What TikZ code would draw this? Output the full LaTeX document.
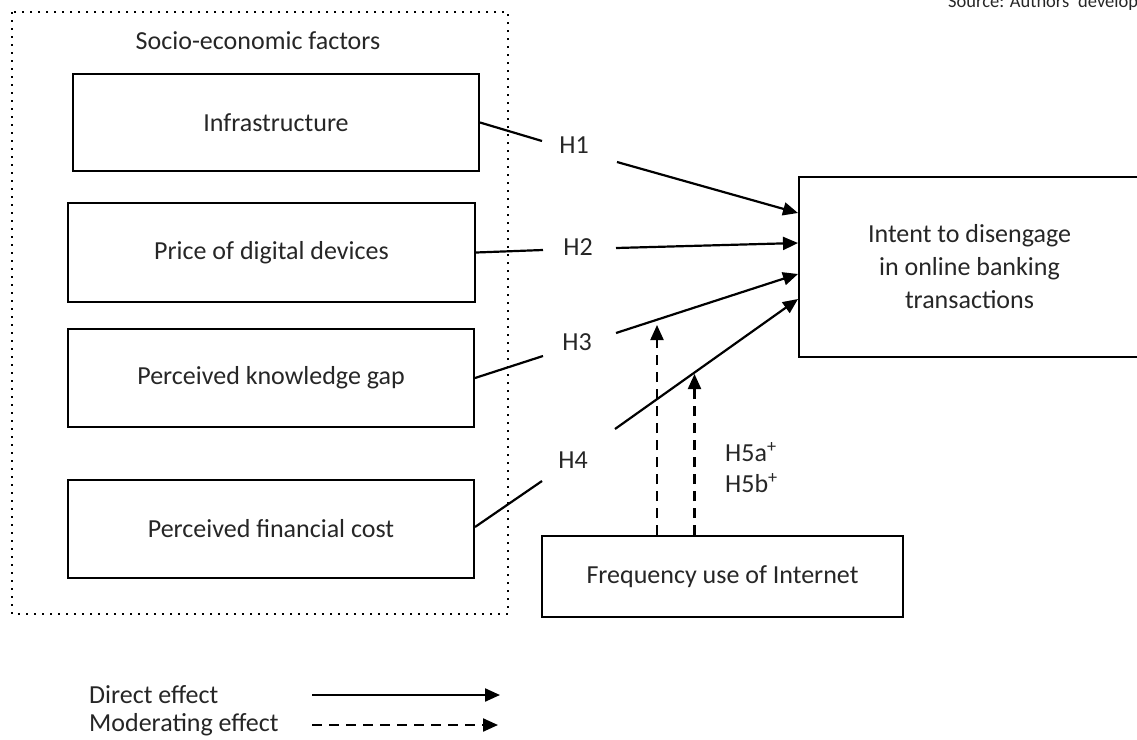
\documentclass[tikz,border=0pt]{standalone}
\usepackage{fontspec}
\setmainfont{Carlito}
\usetikzlibrary{arrows.meta}
\definecolor{txt}{HTML}{262626}
\begin{document}
\begin{tikzpicture}[x=1pt,y=-1pt,
  every node/.style={font=\fontsize{26}{31}\selectfont, text=txt, inner sep=0pt},
  box/.style={draw=black, line width=2pt, inner sep=0pt},
  link/.style={line width=2.2pt},
  direct/.style={line width=2.2pt, -{Triangle[length=15pt,width=13pt]}},
  moder/.style={line width=2.2pt, dash pattern=on 10pt off 7pt, -{Triangle[length=15pt,width=13pt]}},
  group/.style={line width=2pt, dash pattern=on 2pt off 6pt}]
\useasboundingbox (0,0) rectangle (1137,739);
\clip (0,0) rectangle (1137,739);

% group frame
\draw[group] (12,12) rectangle (508,614);
\node (socio) at (258,41) {Socio-economic factors};

% boxes
\node[box, minimum width=406pt, minimum height=97pt] (infra) at (276,122.5) {Infrastructure};
\node[box, minimum width=407pt, minimum height=99pt] (price) at (271.5,252.5) {Price of digital devices};
\node[box, minimum width=406pt, minimum height=98pt] (know) at (271,378) {Perceived knowledge gap};
\node[box, minimum width=406pt, minimum height=98pt] (fin) at (271,529) {Perceived financial cost};
\node[box, minimum width=341pt, minimum height=180pt, align=center] (intent) at (969.5,267)
  {Intent to disengage\\[2pt] in online banking\\[2pt] transactions};
\node[box, minimum width=361pt, minimum height=81pt] (freq) at (722.5,576.5) {Frequency use of Internet};

% hypothesis labels
\node (h1) at (574,145) {H1};
\node (h2) at (578,247) {H2};
\node (h3) at (577,342) {H3};
\node (h4) at (573,460) {H4};
\node[anchor=west] (h5a) at (725,452) {H5a\textsuperscript{+}};
\node[anchor=west] (h5b) at (725,483) {H5b\textsuperscript{+}};

% direct connectors
\coordinate (a1) at (542,141); \coordinate (b1) at (617,162);
\coordinate (a2) at (543,250); \coordinate (b2) at (616,248);
\coordinate (a3) at (543,356); \coordinate (b3) at (616,333);
\coordinate (a4) at (542,481); \coordinate (b4) at (615,429);
\draw[link] (infra.east) -- (a1);
\draw[direct] (b1) -- ([yshift=54pt]intent.west);
\draw[link] (price.east) -- (a2);
\draw[direct] (b2) -- ([yshift=24pt]intent.west);
\draw[link] (know.east) -- (a3);
\draw[direct] (b3) -- ([yshift=-7pt]intent.west);
\draw[link] ([yshift=2pt]fin.east) -- (a4);
\draw[direct] (b4) -- ([yshift=-32pt]intent.west);

% moderating connectors
\coordinate (m3) at (657,325);
\coordinate (m4) at (694.5,374);
\draw[moder] ([xshift=-65.5pt]freq.north) -- (m3);
\draw[moder] ([xshift=-28pt]freq.north) -- (m4);

% legend
\node[anchor=west] (ldir) at (89,695) {Direct effect};
\node[anchor=west] (lmod) at (89,725) {Moderating effect};
\coordinate (ls1) at (312,695); \coordinate (le1) at (500,695);
\coordinate (ls2) at (312,725); \coordinate (le2) at (498,725);
\draw[direct] (ls1) -- (le1);
\draw[moder] (ls2) -- (le2);

% source note (cut off at the page edge)
\node[anchor=base west, font=\fontsize{18.5}{22}\selectfont] (src) at (948,7) {Source: Authors' develop};
\end{tikzpicture}
\end{document}
